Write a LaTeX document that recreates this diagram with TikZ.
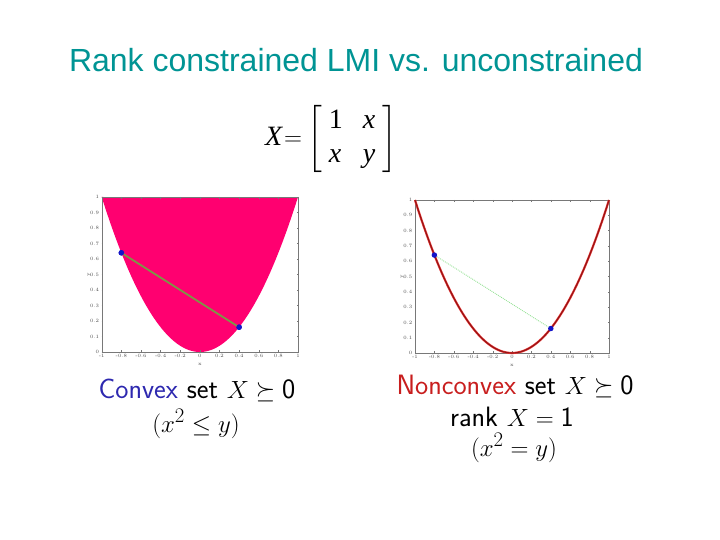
\documentclass[tikz,border=0pt]{standalone}
\usepackage{amsmath,amssymb}
\usepackage{fontspec}
\newfontfamily\arialf{Liberation Sans}
\newfontfamily\tms{Liberation Serif}
\definecolor{titlec}{RGB}{0,148,148}
\definecolor{mag}{RGB}{255,0,112}
\definecolor{dotb}{RGB}{20,20,200}
\definecolor{lineg}{RGB}{125,150,70}
\definecolor{lightg}{RGB}{150,225,150}
\definecolor{curvered}{RGB}{150,20,20}
\definecolor{halored}{RGB}{235,60,60}
\definecolor{convb}{RGB}{45,40,175}
\definecolor{nonr}{RGB}{200,30,30}
\definecolor{axg}{RGB}{120,120,120}
\tikzset{
  frame/.style={draw=axg,line width=0.3pt},
  ticklab/.style={font=\fontsize{5}{5}\selectfont,text=black!70,inner sep=0.5pt},
  ptdot/.style={circle,fill=dotb,inner sep=0pt,minimum size=5.5pt},
  lbl/.style={font=\fontsize{28}{32}\selectfont\sffamily,anchor=base,inner sep=0pt},
}
\newcommand{\tv}[1]{\text{\tms\itshape #1}}
\newcommand{\sfd}[1]{\text{\sffamily #1}}
\begin{document}
\begin{tikzpicture}[x=1pt,y=-1pt]
\useasboundingbox (0,0) rectangle (720,540);
\node[font=\fontsize{32}{36}\selectfont\arialf,text=titlec,anchor=base] (title) at (356,72) {Rank constrained LMI vs. unconstrained};
\node[font=\fontsize{28}{32}\selectfont] (mat) at (331,139) {$\tv{X}\hspace{2pt}{=}\hspace{1pt}\left[\begin{array}{@{\;}l@{\hspace{20pt}}l@{\;}}\text{\tms 1} & \tv{x}\\[2pt] \tv{x} & \tv{y}\end{array}\right]$};

% left plot
\begin{scope}[shift={(199.85,352)},x=98.15pt,y=155pt]
  \fill[mag] plot[domain=-1:1,samples=80,smooth] (\x,{\x*\x}) -- cycle;
  \draw[frame] (-1,0) rectangle (1,1);
  \foreach \t/\l in {-1/-1,-0.8/-0.8,-0.6/-0.6,-0.4/-0.4,-0.2/-0.2,0/0,0.2/0.2,0.4/0.4,0.6/0.6,0.8/0.8,1/1}{
    \draw[axg,line width=0.2pt] (\t,0) -- (\t,0.015);
    \draw[axg,line width=0.2pt] (\t,1) -- (\t,0.985);
    \node[ticklab,anchor=north] at ([yshift=-1.5pt]\t,0) {\l};}
  \foreach \t/\l in {0/0,0.1/0.1,0.2/0.2,0.3/0.3,0.4/0.4,0.5/0.5,0.6/0.6,0.7/0.7,0.8/0.8,0.9/0.9,1/1}{
    \draw[axg,line width=0.2pt] (-1,\t) -- (-0.985,\t);
    \draw[axg,line width=0.2pt] (1,\t) -- (0.985,\t);
    \node[ticklab,anchor=east] at ([xshift=-2pt]-1,\t) {\l};}
  \node[ticklab] (lx) at (0,-0.08) {x};
  \node[ticklab,rotate=90] (ly) at (-1.13,0.5) {y};
  \node[ptdot] (la) at (-0.8,0.64) {};
  \node[ptdot] (lb) at (0.4,0.16) {};
  \draw[lineg,line width=1.8pt] (la.center) -- (lb.center);
  \node[ptdot] at (la) {};
  \node[ptdot] at (lb) {};
\end{scope}

% right plot
\begin{scope}[shift={(512,353)},x=97pt,y=153pt]
  \draw[frame] (-1,0) rectangle (1,1);
  \foreach \t/\l in {-1/-1,-0.8/-0.8,-0.6/-0.6,-0.4/-0.4,-0.2/-0.2,0/0,0.2/0.2,0.4/0.4,0.6/0.6,0.8/0.8,1/1}{
    \draw[axg,line width=0.2pt] (\t,0) -- (\t,0.015);
    \draw[axg,line width=0.2pt] (\t,1) -- (\t,0.985);
    \node[ticklab,anchor=north] at ([yshift=-1.5pt]\t,0) {\l};}
  \foreach \t/\l in {0/0,0.1/0.1,0.2/0.2,0.3/0.3,0.4/0.4,0.5/0.5,0.6/0.6,0.7/0.7,0.8/0.8,0.9/0.9,1/1}{
    \draw[axg,line width=0.2pt] (-1,\t) -- (-0.985,\t);
    \draw[axg,line width=0.2pt] (1,\t) -- (0.985,\t);
    \node[ticklab,anchor=east] at ([xshift=-2pt]-1,\t) {\l};}
  \node[ticklab] (rx) at (0,-0.08) {x};
  \node[ticklab,rotate=90] (ry) at (-1.13,0.5) {y};
  \draw[halored,line width=2.2pt] plot[domain=-1:1,samples=80,smooth] (\x,{\x*\x});
  \draw[curvered,line width=1.1pt] plot[domain=-1:1,samples=80,smooth] (\x,{\x*\x});
  \node[ptdot] (ra) at (-0.8,0.64) {};
  \node[ptdot] (rb) at (0.4,0.16) {};
  \draw[lightg,line width=0.9pt,densely dotted] (ra) -- (rb);
\end{scope}

% captions
\node[lbl] (c1) at (197,398) {\textcolor{convb}{Convex} set $X\succeq \sfd{0}$};
\node[lbl] (c2) at (196,432) {$(x^2\leq y)$};
\node[lbl] (n1) at (515,394) {\textcolor{nonr}{Nonconvex} set $X\succeq \sfd{0}$};
\node[lbl] (n2) at (512,426) {rank $X=\sfd{1}$};
\node[lbl] (n3) at (514,456) {$(x^2=y)$};
\end{tikzpicture}
\end{document}
